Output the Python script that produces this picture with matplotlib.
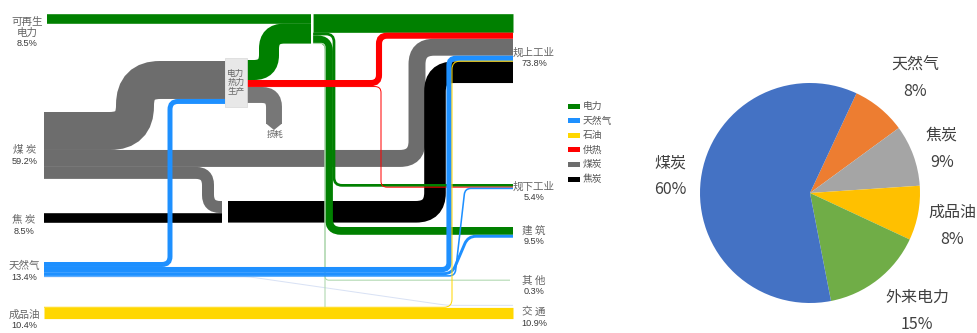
import numpy as np
import matplotlib.pyplot as plt
from matplotlib.path import Path
from matplotlib.patches import PathPatch, Rectangle, Polygon

plt.rcParams['font.family'] = ['Noto Sans CJK SC', 'DejaVu Sans']

# 左侧：一次能源来源
src_names = ['可再生\n电力', '煤 炭', '焦 炭', '天然气', '成品油']
src_pct = [8.5, 59.2, 8.5, 13.4, 10.4]
# 右侧：终端部门
dst_names = ['规上工业', '规下工业', '建 筑', '其 他', '交 通']
dst_pct = [73.8, 5.4, 9.5, 0.3, 10.9]

# 各支流量 (%)
coal_flow = [33.6, 15.0, 10.6]          # 电厂, 规上工业, 炼焦
gas_flow = [4.4, 4.6, 2.6, 1.4, 0.4]    # 电厂, 规上工业, 建筑, 规下工业, 交通
oil_flow = [0.5, 9.9]                   # 规上工业, 交通
plant_out = [17.7, 6.2, 14.1]           # 电力, 供热, 损耗
elec_flow = [16.5, 2.4, 6.9, 0.3, 0.1]  # 规上工业, 规下工业, 建筑, 其他, 交通
heat_flow = [5.4, 0.8]                  # 规上工业, 规下工业

legend_names = ['电力', '天然气', '石油', '供热', '煤炭', '焦炭']
C_ELEC, C_GAS, C_OIL, C_HEAT, C_COAL, C_COKE = '#008000', '#1e90ff', '#ffd700', '#ff0000', '#6d6d6d', '#000000'
legend_colors = [C_ELEC, C_GAS, C_OIL, C_HEAT, C_COAL, C_COKE]

# 右侧饼图：能源消费结构
pie_names = ['天然气', '焦炭', '成品油', '外来电力', '煤炭']
pie_pct = [8, 9, 8, 15, 60]
pie_colors = ['#ed7d31', '#a5a5a5', '#ffc000', '#70ad47', '#4472c4']

DPI = 100
PX = 1.13          # 1% 对应像素宽度
X0, XR = 44, 513   # 左右节点位置

fig = plt.figure(figsize=(9.78, 3.33), dpi=DPI)
ax = fig.add_axes([0, 0, 1, 1])
ax.set_xlim(0, 978)
ax.set_ylim(333, 0)
ax.axis('off')


def centers(top, vals):
    out, y = [], top
    for v in vals:
        w = v * PX
        out.append(y + w / 2)
        y += w
    return out


def band(pts, val, color, r=8, z=2, minw=1.0, alpha=1.0):
    w = max(val * PX, minw)
    verts, codes = [pts[0]], [Path.MOVETO]
    n = len(pts)
    for i in range(1, n - 1):
        p0, p1, p2 = (np.array(p, float) for p in pts[i - 1:i + 2])
        d1, d2 = p1 - p0, p2 - p1
        l1, l2 = np.hypot(*d1), np.hypot(*d2)
        rr = min(r, l1 if i == 1 else l1 / 2, l2 if i == n - 2 else l2 / 2)
        a = p1 - d1 / l1 * rr
        b = p1 + d2 / l2 * rr
        verts += [tuple(a), tuple(p1), tuple(b)]
        codes += [Path.LINETO, Path.CURVE3, Path.CURVE3]
    verts.append(pts[-1])
    codes.append(Path.LINETO)
    ax.add_patch(PathPatch(Path(verts, codes), fill=False, ec=color,
                           lw=w * 72 / DPI, capstyle='butt', joinstyle='miter',
                           zorder=z, alpha=alpha))


src_top = [14, 112, 213, 262, 307]
dst_top = [14, 184, 227, 280, 307]

coke_out = coal_flow[2] + src_pct[2]
y_top = centers(dst_top[0], [elec_flow[0], heat_flow[0], coal_flow[1], gas_flow[1], oil_flow[0], coke_out])
y_low = centers(dst_top[1], [elec_flow[1], heat_flow[1], gas_flow[3]])
y_bld = centers(dst_top[2], [elec_flow[2], gas_flow[2]])
y_oth = centers(dst_top[3], [elec_flow[3]])
y_trn = centers(dst_top[4], [elec_flow[4], gas_flow[4], oil_flow[1]])

y_coal = centers(src_top[1], coal_flow)
y_gas = centers(src_top[3], gas_flow)
y_oil = centers(src_top[4], oil_flow)
y_pin = centers(61, [coal_flow[0], gas_flow[0]])
y_pout = centers(60, plant_out)
y_heat = centers(60 + plant_out[0] * PX, heat_flow)
y_jin = centers(src_top[0], [src_pct[0], plant_out[0]])
y_jout = centers(src_top[0], elec_flow)
y_ckin = centers(201, [coal_flow[2], src_pct[2]])
y_ckout = centers(201, [coke_out])

# 煤炭
band([(X0, y_coal[0]), (135, y_coal[0]), (135, y_pin[0]), (225, y_pin[0])], coal_flow[0], C_COAL, r=25)
band([(X0, y_coal[1]), (417, y_coal[1]), (417, y_top[2]), (XR, y_top[2])], coal_flow[1], C_COAL, r=17)
band([(X0, y_coal[2]), (208, y_coal[2]), (208, y_ckin[0]), (222, y_ckin[0])], coal_flow[2], C_COAL, r=12)
# 电厂损耗
band([(247, y_pout[2]), (274, y_pout[2]), (274, 124)], plant_out[2], '#777777', r=12)
ax.add_patch(Polygon([(266, 123.5), (282, 123.5), (274, 130)], closed=True, fc='#777777', ec='none', zorder=2))

# 焦炭
band([(X0, y_ckin[1]), (222, y_ckin[1])], src_pct[2], C_COKE, z=3)
band([(228, y_ckout[0]), (435, y_ckout[0]), (435, y_top[5]), (XR, y_top[5])], coke_out, C_COKE, r=19, z=3)

# 电力
band([(47, y_jin[0]), (311, y_jin[0])], src_pct[0], C_ELEC, z=4)
band([(247, y_pout[0]), (269, y_pout[0]), (269, y_jin[1]), (311, y_jin[1])], plant_out[0], C_ELEC, r=15, z=4)
band([(313, y_jout[0]), (XR, y_jout[0])], elec_flow[0], C_ELEC, z=4)
band([(313, y_jout[1]), (334, y_jout[1]), (334, y_low[0]), (XR, y_low[0])], elec_flow[1], C_ELEC, r=8, z=4)
band([(313, y_jout[2]), (329, y_jout[2]), (329, y_bld[0]), (XR, y_bld[0])], elec_flow[2], C_ELEC, r=12, z=4)
band([(313, y_jout[3]), (325, y_jout[3]), (325, y_oth[0]), (XR - 3, y_oth[0])], elec_flow[3], '#a9d5a9', r=4, z=4)
band([(313, y_jout[4]), (325, y_jout[4]), (325, y_trn[0])], elec_flow[4], '#a9d5a9', r=4, z=4)
ax.plot([312, 312], [src_top[0], y_jin[1] + 10], color='white', lw=0.9, zorder=4.5)

# 供热
band([(247, y_heat[0]), (379, y_heat[0]), (379, y_top[1]), (XR, y_top[1])], heat_flow[0], C_HEAT, r=8, z=5)
band([(247, y_heat[1]), (381, y_heat[1]), (381, y_low[1]), (XR, y_low[1])], heat_flow[1], C_HEAT, r=6, z=5)

# 天然气
band([(X0, y_gas[0]), (170, y_gas[0]), (170, y_pin[1]), (225, y_pin[1])], gas_flow[0], C_GAS, r=8, z=6)
band([(X0, y_gas[1]), (449, y_gas[1]), (449, y_top[3]), (XR, y_top[3])], gas_flow[1], C_GAS, r=7, z=6)
band([(X0, y_gas[2]), (452, y_gas[2]), (468, y_bld[1]), (XR, y_bld[1])], gas_flow[2], C_GAS, r=8, z=6)
band([(X0, y_gas[3]), (455, y_gas[3]), (465, y_low[2]), (XR, y_low[2])], gas_flow[3], C_GAS, r=6, z=6)
band([(X0, y_gas[4]), (250, y_gas[4]), (447, y_trn[1] - 2), (XR, y_trn[1] - 2)], gas_flow[4], '#d9e2f5', r=6, z=1.5)

# 成品油
band([(X0, y_oil[0]), (452, y_oil[0]), (452, y_top[4]), (XR, y_top[4])], oil_flow[0], C_OIL, r=8, z=7)
band([(X0, y_oil[1]), (XR, y_oil[1])], oil_flow[1], C_OIL, z=7)

# 电力热力生产节点
ax.add_patch(Rectangle((225, 58), 22, 49, fc='#e8e8e8', ec='#d8d8d8', lw=0.5, zorder=8))
ax.text(236, 82, '电力\n热力\n生产', ha='center', va='center', fontsize=6.2,
        color='#666666', linespacing=0.95, zorder=9)
ax.text(275, 134, '损耗', ha='center', va='center', fontsize=6, color='#666666')

# 左右标签
src_lab = [(27, 44), (25, 161), (24, 231), (24, 277), (24, 326)]
for name, pct, (x, y) in zip(src_names, src_pct, src_lab):
    ax.text(x, y, f'{pct}%', ha='center', va='center', fontsize=6.6,
            family='Liberation Sans', color='#3a3a3a')
    ax.text(x, y - 6.5, name, ha='center', va='bottom', fontsize=7.6,
            color='#666666', linespacing=1.0)

dst_lab = [(534, 64), (534, 198), (534, 242), (534, 292), (534, 323)]
for name, pct, (x, y) in zip(dst_names, dst_pct, dst_lab):
    ax.text(x, y, f'{pct}%', ha='center', va='center', fontsize=6.6,
            family='Liberation Sans', color='#3a3a3a')
    ax.text(x, y - 6.5, name, ha='center', va='bottom', fontsize=7.6,
            color='#666666')

# 图例
for i, (name, col) in enumerate(zip(legend_names, legend_colors)):
    yc = 106 + 14.6 * i
    ax.add_patch(Rectangle((568, yc - 2.5), 12, 5, fc=col, ec='none'))
    ax.text(583, yc, name, ha='left', va='center', fontsize=7, color='#555555')

# 饼图
R = 110
cx, cy = 810, 193
pax = fig.add_axes([(cx - R) / 978, (333 - cy - R) / 333, 2 * R / 978, 2 * R / 333])
pax.pie(pie_pct, colors=pie_colors, startangle=65, counterclock=False)
pax.set_xlim(-1, 1)
pax.set_ylim(-1, 1)

pie_lab = [(915, 78.5), (942, 149), (952, 226), (917, 311), (670, 176.5)]
for name, pct, (x, y) in zip(pie_names, pie_pct, pie_lab):
    ax.text(x, y - 13.5, name, ha='center', va='center', fontsize=11.5, color='#404040')
    ax.text(x, y + 13.5, f'{pct}%', ha='center', va='center', fontsize=11.5, color='#404040')

fig.savefig('out.png', dpi=DPI)
